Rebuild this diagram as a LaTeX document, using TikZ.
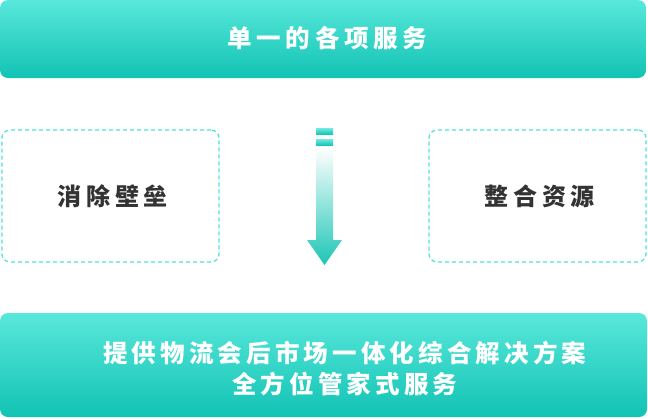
\documentclass[tikz,border=0pt]{standalone}
\usepackage{fontspec}
\newfontfamily\cjk[LetterSpace=19]{Noto Sans CJK SC}
\newfontfamily\cjkb[LetterSpace=17]{Noto Sans CJK SC}
\definecolor{tealTop}{HTML}{58E8DB}
\definecolor{tealBot}{HTML}{12C3B4}
\definecolor{dashc}{HTML}{4EE2D6}
\definecolor{darktext}{HTML}{333333}
\definecolor{arrowBot}{HTML}{1CC6B6}
\tikzset{
  bandbox/.style={rounded corners=8pt, top color=tealTop, bottom color=tealBot,
    inner sep=0pt, minimum width=#1},
  dashbox/.style={draw=dashc, line width=1.3pt, dash pattern=on 4pt off 3pt,
    rounded corners=8pt, minimum width=217pt, minimum height=132pt, inner sep=0pt},
  whitetext/.style={text=white, font=\cjk\bfseries\fontsize{24.5pt}{30.5pt}\selectfont, inner sep=0pt, align=center},
  whitetextb/.style={text=white, font=\cjkb\bfseries\fontsize{24.5pt}{30.5pt}\selectfont, inner sep=0pt, align=center},
  darklabel/.style={text=darktext, font=\cjk\bfseries\fontsize{24pt}{30pt}\selectfont, inner sep=0pt},
}
\begin{document}
\begin{tikzpicture}[x=1pt,y=-1pt]
\useasboundingbox (0,0) rectangle (648,418);
% top band
\node[bandbox=646pt, minimum height=78pt] (topband) at (323,39) {};
\node[whitetext] (toptext) at (325,38) {单一的各项服务\kern-4.6pt};
% dashed boxes
\node[dashbox] (left) at (110.5,196) {};
\node[darklabel] (lefttext) at (left.center) {消除壁垒\kern-4.6pt};
\node[dashbox] (right) at (537.5,196) {};
\node[darklabel] (righttext) at (right.center) {整合资源\kern-4.6pt};
% arrow
\shade[top color=tealTop!85!white, bottom color=tealBot!90!tealTop] (316,128) rectangle (333,134);
\shade[top color=tealTop!85!white, bottom color=tealBot!90!tealTop] (316,139) rectangle (333,145);
\shade[top color=white, bottom color=arrowBot] (316,148) -- (333,148) -- (333,240) -- (342,240)
  -- (324.5,265) -- (307,240) -- (316,240) -- cycle;
% bottom band
\node[bandbox=647pt, minimum height=104pt] (botband) at (323.5,365) {};
\node[whitetextb] (bottext) at (342.7,368.7) {提供物流会后市场一体化综合解决方案\kern-4.2pt\\全方位管家式服务\kern-4.2pt};
\end{tikzpicture}
\end{document}
